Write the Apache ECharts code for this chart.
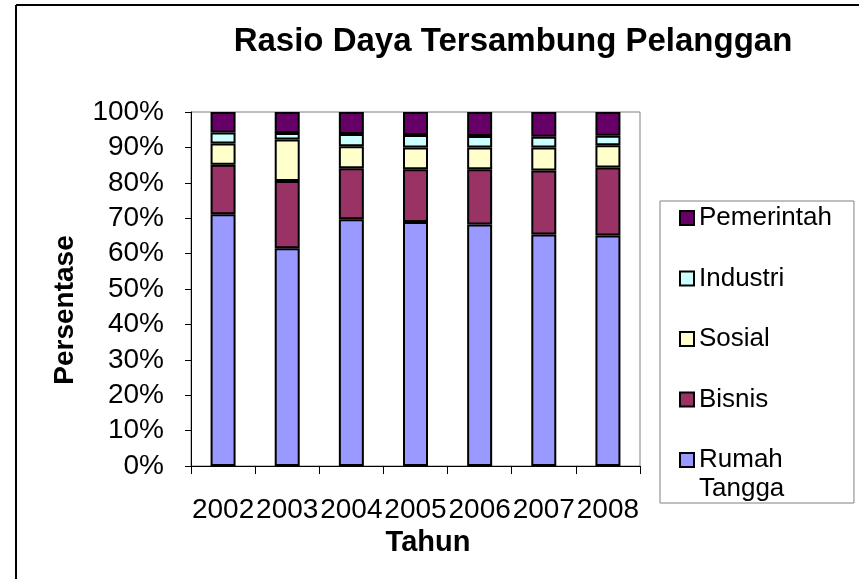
<!DOCTYPE html>
<html>
<head>
<meta charset="utf-8">
<script src="https://cdn.jsdelivr.net/npm/echarts@6/dist/echarts.min.js"></script>
<style>
  html, body { margin: 0; padding: 0; background: #fff; }
  #chart { width: 859px; height: 579px; }
</style>
</head>
<body>
<div id="chart"></div>
<script>
// data (persen per tahun)
var years = ['2002', '2003', '2004', '2005', '2006', '2007', '2008'];
var rumahTangga = [71.1, 61.5, 69.7, 68.9, 68.2, 65.4, 65.1];
var bisnis      = [14.0, 19.0, 14.4, 14.9, 15.6, 18.1, 19.2];
var sosial      = [6.0, 11.7, 6.2, 6.2, 6.2, 6.5, 6.3];
var industri    = [3.1, 1.9, 3.5, 3.5, 3.2, 3.0, 2.7];
var pemerintah  = [5.8, 5.9, 6.2, 6.5, 6.8, 7.0, 6.7];

var FONT = 'Arial, "Liberation Sans", sans-serif';

var chart = echarts.init(document.getElementById('chart'));

function bar(name, data, color) {
    return {
        name: name,
        type: 'bar',
        stack: 'total',
        barWidth: 25,
        data: data,
        itemStyle: { color: color, borderColor: '#000', borderWidth: 2 }
    };
}

chart.setOption({
    animation: false,
    backgroundColor: '#fff',
    textStyle: { fontFamily: FONT },
    title: {
        text: 'Rasio Daya Tersambung Pelanggan',
        left: 513,
        top: 25,
        padding: 0,
        textAlign: 'center',
        textStyle: { fontFamily: FONT, fontSize: 33, fontWeight: 'bold', color: '#000' }
    },
    graphic: [
        // bingkai kiri & atas
        { type: 'line', shape: { x1: 16, y1: 5, x2: 16, y2: 579 }, style: { stroke: '#000', lineWidth: 2 } },
        { type: 'line', shape: { x1: 16, y1: 5, x2: 859, y2: 5 }, style: { stroke: '#000', lineWidth: 2 } },
        // baris kedua legenda "Rumah Tangga"
        { type: 'text', x: 699, y: 489, style: { text: 'Tangga', font: '26px ' + FONT, fill: '#000', verticalAlign: 'middle' } }
    ],
    legend: {
        orient: 'vertical',
        left: 660,
        top: 201,
        padding: [2, 22, 28, 19],
        itemGap: 30.5,
        itemWidth: 14,
        itemHeight: 14,
        borderColor: '#808080',
        borderWidth: 1,
        icon: 'rect',
        itemStyle: { borderColor: '#000', borderWidth: 2 },
        textStyle: { fontFamily: FONT, fontSize: 26, lineHeight: 30, color: '#000' },
        data: ['Pemerintah', 'Industri', 'Sosial', 'Bisnis', 'Rumah Tangga'],
        formatter: function(name) {
            return name == 'Rumah Tangga' ? 'Rumah' : name;
        }
    },
    grid: {
        left: 191,
        right: 219,
        top: 112,
        bottom: 113,
        show: true,
        borderColor: '#808080',
        borderWidth: 1
    },
    xAxis: {
        type: 'category',
        data: years,
        name: 'Tahun',
        nameLocation: 'middle',
        nameGap: 59,
        nameTextStyle: { fontFamily: FONT, fontSize: 29, fontWeight: 'bold', color: '#000', padding: [0, 0, 0, 25] },
        axisLine: { lineStyle: { color: '#000', width: 1 } },
        axisTick: { show: true, length: 8, lineStyle: { color: '#000' } },
        axisLabel: { interval: 0, margin: 30, fontFamily: FONT, fontSize: 28, color: '#000' },
        splitLine: { show: false }
    },
    yAxis: {
        type: 'value',
        min: 0,
        max: 100,
        interval: 10,
        name: 'Persentase',
        nameLocation: 'middle',
        nameGap: 112,
        nameTextStyle: { fontFamily: FONT, fontSize: 28, fontWeight: 'bold', color: '#000', padding: [0, 42, 0, 0] },
        axisLine: { show: true, lineStyle: { color: '#000', width: 1 } },
        axisTick: { show: true, length: 6, lineStyle: { color: '#000' } },
        axisLabel: { margin: 27, fontFamily: FONT, fontSize: 28, color: '#000', formatter: '{value}%' },
        splitLine: { show: false }
    },
    series: [
        bar('Rumah Tangga', rumahTangga, '#9999FF'),
        bar('Bisnis', bisnis, '#993366'),
        bar('Sosial', sosial, '#FFFFCC'),
        bar('Industri', industri, '#CCFFFF'),
        bar('Pemerintah', pemerintah, '#660066')
    ]
});
</script>
</body>
</html>
